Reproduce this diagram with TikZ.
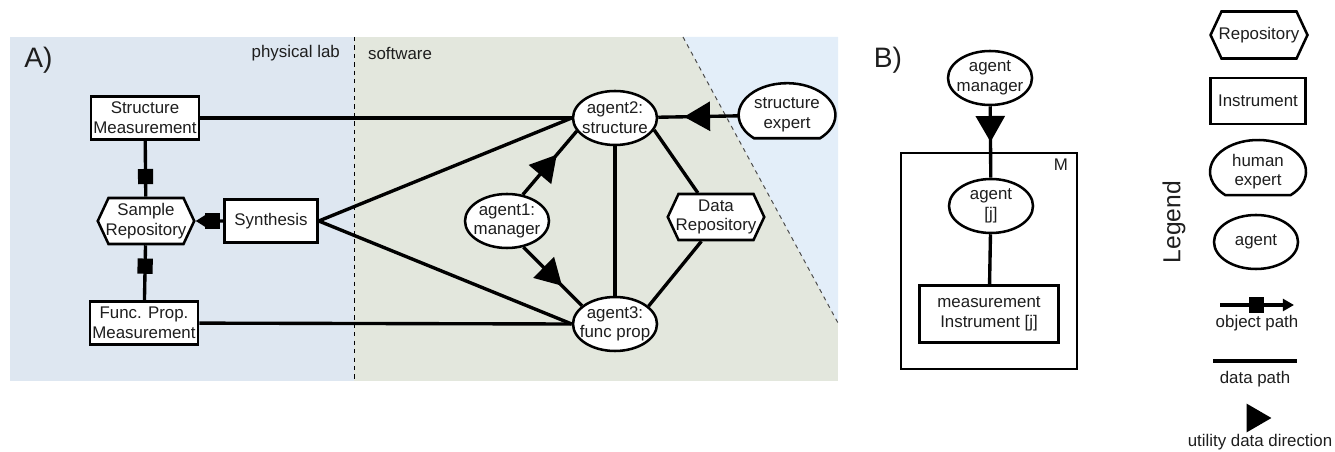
\documentclass[tikz,border=0pt]{standalone}
\usepackage{fontspec}
\setmainfont{Liberation Sans}
\usetikzlibrary{shapes.geometric, shapes.symbols, arrows.meta, decorations.markings}

\definecolor{labblue}{HTML}{DEE7F1}
\definecolor{softgreen}{HTML}{E3E7DD}
\definecolor{humanblue}{HTML}{E3EEF9}
\definecolor{txtgray}{HTML}{1E1E1E}

\tikzset{
  lbl/.style={font=\fontsize{12}{14}\selectfont, text=txtgray, align=center},
  instrument/.style={lbl, draw, line width=1.8pt, fill=white, inner sep=1pt, minimum width=2.7cm, minimum height=1.075cm},
  repo/.style={lbl, signal, signal to=west and east, signal pointer angle=130, draw, line width=1.8pt, fill=white, inner xsep=-2pt, inner ysep=1pt, minimum width=2.35cm, minimum height=1.15cm},
  agent/.style={lbl, ellipse, draw, line width=1.8pt, fill=white, inner xsep=-4pt, inner ysep=-2pt, minimum width=2.1cm, minimum height=1.35cm},
  humanlbl/.style={lbl, ellipse, inner xsep=-4pt, inner ysep=-2pt, minimum width=2.4cm, minimum height=1.4cm},
  human/.style={draw, line width=1.8pt, fill=white},
  datapath/.style={line width=2.4pt},
  objpath/.style={datapath, postaction={decorate}, decoration={markings, mark=at position #1 with {\fill (-0.19,-0.19) rectangle (0.19,0.19);}}},
  objpath/.default=0.5,
  utility/.style={datapath, postaction={decorate}, decoration={markings, mark=at position #1 with {\arrow{Triangle[length=0.65cm,width=0.72cm]}}}},
  utility/.default=0.5
}

\begin{document}
\begin{tikzpicture}
	\useasboundingbox (0,0) rectangle (33.375,-11.3);

	% panel A background
	\fill[labblue] (0.25,-0.925) rectangle (8.85,-9.525);
	\fill[softgreen] (8.85,-0.925) rectangle (20.95,-9.525);
	\fill[humanblue] (17.075,-0.925) -- (20.95,-0.925) -- (20.95,-8.075) -- cycle;
	\draw[dashed, line width=0.7pt] (8.85,-0.925) -- (8.85,-9.525);
	\draw[dashed, gray!60!black, line width=0.7pt] (17.075,-0.925) -- (20.95,-8.075);

	\node[font=\fontsize{20}{24}\selectfont, text=txtgray] (alabel) at (0.96,-1.5) {A)};
	\node[lbl, anchor=east] (physlabel) at (8.62,-1.325) {physical lab};
	\node[lbl, anchor=west] (softlabel) at (9.08,-1.325) {software};

	% physical lab
	\node[instrument] (smeas) at (3.625,-2.95) {Structure\\Measurement};
	\node[repo] (srepo) at (3.65,-5.525) {Sample\\Repository};
	\node[instrument, minimum width=2.325cm] (synth) at (6.775,-5.525) {Synthesis};
	\node[instrument] (fmeas) at (3.6,-8.075) {Func. Prop.\\Measurement};

	% software
	\node[agent] (agent2) at (15.375,-2.95) {agent2:\\structure};
	\node[agent] (agent1) at (12.675,-5.525) {agent1:\\manager};
	\node[agent] (agent3) at (15.375,-8.1) {agent3:\\func prop};
	\node[repo] (drepo) at (17.9,-5.425) {Data\\Repository};

	% human
	\coordinate (expertc) at (19.675,-2.875);
	\draw[human] ([shift={(-47:1.21cm and 0.795cm)}]expertc) arc[start angle=-47, end angle=227, x radius=1.21cm, y radius=0.795cm] -- cycle;
	\node[humanlbl] (expert) at (expertc) {structure\\expert};

	\draw[datapath] (smeas) -- (agent2.west);
	\draw[datapath] (synth.east) -- (agent2.west);
	\draw[datapath] (synth.east) -- (agent3.west);
	\draw[datapath] (fmeas) -- (agent3.west);
	\draw[utility=0.63] (agent1.59) -- (agent2.199);
	\draw[utility=0.66] (agent1.-58) -- (agent3.151);
	\draw[datapath] (agent2) -- (agent3);
	\draw[datapath] (agent2.-17) -- (drepo.127);
	\draw[datapath] (drepo.239) -- (agent3.28);
	\draw[utility=0.68] (expert) -- (agent2);
	\draw[objpath=0.64] (smeas) -- (srepo);
	\draw[objpath=0.38] (srepo) -- (fmeas);
	\draw[objpath=0.4, -{Triangle[length=0.3cm,width=0.35cm]}] (synth) -- (srepo);

	% panel B
	\node[font=\fontsize{20}{24}\selectfont, text=txtgray] (blabel) at (22.2,-1.5) {B)};
	\node[draw, line width=1.8pt, minimum width=4.4cm, minimum height=5.4cm] (plate) at (24.725,-6.525) {};
	\node[lbl] (mlabel) at (26.525,-4.125) {M};
	\node[agent] (amanager) at (24.75,-1.95) {agent\\manager};
	\node[agent] (agentj) at (24.775,-5.15) {agent\\{[j]}};
	\node[instrument, minimum width=3.475cm, minimum height=1.425cm] (minstr) at (24.725,-7.85) {measurement\\Instrument [j]};
	\draw[utility=0.5] (amanager) -- (agentj);
	\draw[datapath] (agentj) -- (minstr);

	% legend
	\node[font=\fontsize{17.5}{20}\selectfont, text=txtgray, rotate=90] (legend) at (29.35,-5.55) {Legend};
	\node[repo, minimum height=1.175cm] (lrepo) at (31.475,-0.875) {Repository};
	\node[instrument, minimum width=2.375cm, minimum height=1.15cm] (linstr) at (31.45,-2.525) {Instrument};
	\coordinate (lhumanc) at (31.45,-4.295);
	\draw[human] ([shift={(-47:1.2cm and 0.795cm)}]lhumanc) arc[start angle=-47, end angle=227, x radius=1.2cm, y radius=0.795cm] -- cycle;
	\node[humanlbl] (lhuman) at (lhumanc) {human\\expert};
	\node[agent] (lagent) at (31.4,-6.05) {agent};
	\coordinate (objA) at (30.5,-7.625);
	\coordinate (objB) at (32.35,-7.625);
	\draw[objpath=0.49, -{Triangle[length=0.28cm,width=0.3cm]}] (objA) -- (objB);
	\node[lbl] (objlabel) at (31.425,-8.075) {object path};
	\coordinate (dataA) at (30.325,-9.025);
	\coordinate (dataB) at (32.425,-9.025);
	\draw[datapath] (dataA) -- (dataB);
	\node[lbl] (datalabel) at (31.375,-9.475) {data path};
	\coordinate (ltri) at (31.475,-10.45);
	\fill ([shift={(-0.31,0.36)}]ltri) -- ([shift={(0.31,0)}]ltri) -- ([shift={(-0.31,-0.36)}]ltri) -- cycle;
	\node[lbl] (utillabel) at (31.5,-11.05) {utility data direction};
\end{tikzpicture}
\end{document}
